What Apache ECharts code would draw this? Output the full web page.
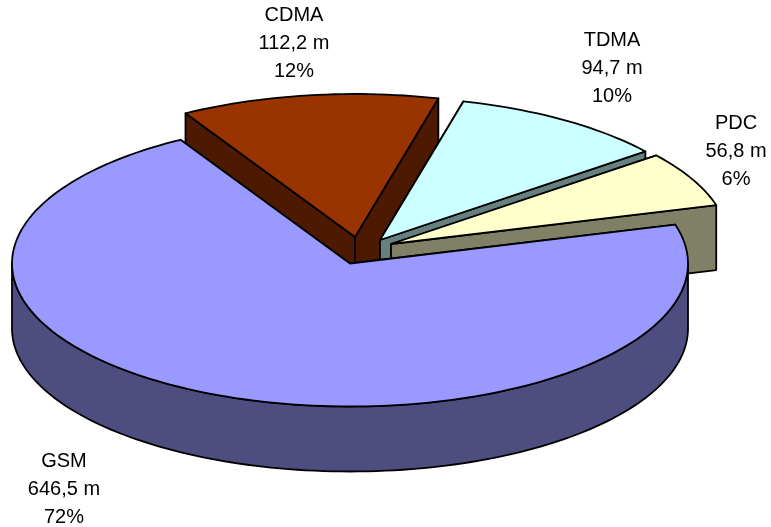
<!DOCTYPE html>
<html>
<head>
<meta charset="utf-8">
<style>html,body{margin:0;padding:0;background:#fff}#c{width:771px;height:527px}</style>
<script src="https://cdn.jsdelivr.net/npm/echarts@6/dist/echarts.min.js"></script>
</head>
<body>
<div id="c"></div>
<script>
// Data, in clockwise order from the CDMA slice
var categories = ['CDMA', 'TDMA', 'PDC', 'GSM'];
var valuesMillions = [112.2, 94.7, 56.8, 646.5];
var valueLabels = ['112,2 m', '94,7 m', '56,8 m', '646,5 m'];
var percentLabels = ['12%', '10%', '6%', '72%'];

// Styles
var topColors = ['#993300', '#CCFFFF', '#FFFFCC', '#9999FF'];
var sideColors = ['#4D1900', '#668080', '#808066', '#4D4D80'];

// Layout of the projected pie
var apexX = [355, 380, 391, 350];
var apexY = [237, 240, 244, 263.5];
var labelX = [294, 612, 736, 64];
var labelY = [2, 27, 110, 448];
var radiusX = 338, radiusY = 143, depth = 65, startAngle = 120.1;

var total = valuesMillions.reduce(function (a, b) { return a + b; }, 0);

function arc(cx, cy, from, to, dy) {
  var pts = [], n = Math.max(2, Math.ceil(Math.abs(to - from) / 1.5));
  for (var k = 0; k <= n; k++) {
    var t = (from + (to - from) * k / n) * Math.PI / 180;
    pts.push([cx + radiusX * Math.cos(t), cy - radiusY * Math.sin(t) + dy]);
  }
  return pts;
}

function face(points, fill) {
  return {
    type: 'polygon', shape: { points: points },
    style: { fill: fill, stroke: '#000', lineWidth: 1.8, lineJoin: 'round' }
  };
}

function renderItem(params, api) {
  var i = api.value(1);
  var before = 0;
  for (var j = 0; j < i; j++) before += valuesMillions[j];
  var a1 = startAngle - before / total * 360;
  var a2 = a1 - api.value(0) / total * 360;
  var cx = apexX[i], cy = apexY[i];
  var children = [];

  // outer wall: only the part of the rim that faces the viewer
  var lo = Math.max(a2, -180), hi = Math.min(a1, 0);
  if (hi > lo) {
    var w = arc(cx, cy, hi, lo, 0).concat(arc(cx, cy, lo, hi, depth));
    children.push(face(w, sideColors[i]));
  }
  // the two cut faces
  [a1, a2].forEach(function (a) {
    var p = arc(cx, cy, a, a, 0)[0];
    children.push(face([[cx, cy], p, [p[0], p[1] + depth], [cx, cy + depth]], sideColors[i]));
  });
  // top
  children.push(face([[cx, cy]].concat(arc(cx, cy, a1, a2, 0)), topColors[i]));
  // label
  children.push({
    type: 'text', z2: 10,
    style: {
      x: labelX[i], y: labelY[i], align: 'center', verticalAlign: 'top',
      text: categories[i] + '\n' + valueLabels[i] + '\n' + percentLabels[i],
      font: '20px "Liberation Sans", Arial, sans-serif', lineHeight: 27.7, fill: '#000'
    }
  });
  return { type: 'group', children: children };
}

var chart = echarts.init(document.getElementById('c'), null, { renderer: 'canvas' });
chart.setOption({
  animation: false,
  backgroundColor: '#fff',
  series: [{
    type: 'custom',
    coordinateSystem: 'none',
    silent: true,
    renderItem: renderItem,
    data: valuesMillions.map(function (v, i) { return [v, i]; })
  }]
});
</script>
</body>
</html>
